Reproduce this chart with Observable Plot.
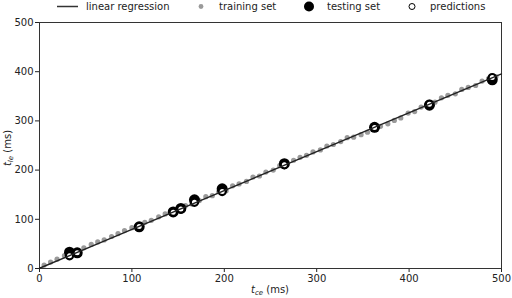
<!DOCTYPE html>
<html>
<head>
<meta charset="utf-8">
<script src="https://cdn.jsdelivr.net/npm/d3@7"></script>
<script src="https://cdn.jsdelivr.net/npm/@observablehq/plot@0.6"></script>
<style>
  html, body { margin: 0; padding: 0; background: white; }
  #legend { display: block; }
  #chart svg { display: block; }
</style>
</head>
<body>
<svg id="legend" width="512" height="14"></svg>
<div id="chart"></div>
<script>
// ---- data ----
const trainX = [5, 12, 19, 27, 34, 41, 48, 56, 63, 70, 78, 85, 92, 100, 107, 114, 121, 129, 136, 143,
  151, 158, 165, 173, 180, 187, 194, 202, 209, 216, 224, 231, 238, 245, 253, 260, 267, 275, 282, 289,
  296, 304, 311, 318, 326, 333, 340, 348, 355, 362, 369, 377, 384, 391, 399, 406, 413, 421, 428, 435,
  442, 450, 457, 464, 472, 479, 486, 494];
const trainY = [7, 13, 19, 26, 32, 37, 42, 49, 54, 58, 65, 71, 77, 83, 88, 94, 98, 105, 111, 116,
  121, 128, 131, 138, 146, 148, 156, 158, 168, 172, 177, 186, 188, 196, 200, 209, 212, 220, 226, 230,
  237, 241, 249, 252, 258, 266, 267, 272, 277, 283, 289, 294, 301, 306, 316, 319, 328, 335, 338, 347,
  352, 355, 364, 368, 372, 381, 386, 390];

const testX = [32.5, 40.8, 107.9, 144.7, 153, 167.7, 197.7, 265, 362.6, 422, 490];
const testY = [33, 31.8, 84.7, 115, 122, 139.6, 162, 213, 287, 332, 383.5];
const predY = [26, 32.2, 85.2, 114.3, 121, 134.8, 156.5, 211, 286.5, 334, 388];

const regX = [0, 500];
const regY = [0.5, 395.5];

const xTicks = [0, 100, 200, 300, 400, 500];
const yTicks = [0, 100, 200, 300, 400, 500];

const legendLabels = ["linear regression", "training set", "testing set", "predictions"];

// ---- tables ----
const train = trainX.map((x, i) => ({x, y: trainY[i]}));
const test = testX.map((x, i) => ({x, y: testY[i]}));
const pred = testX.map((x, i) => ({x, y: predY[i]}));
const reg = regX.map((x, i) => ({x, y: regY[i]}));

const FONT = "DejaVu Sans, sans-serif";

// ---- legend ----
const lg = d3.select("#legend").style("font-family", FONT).style("font-size", "10px");
lg.append("line").attr("x1", 57).attr("x2", 78).attr("y1", 6.5).attr("y2", 6.5)
  .attr("stroke", "#333").attr("stroke-width", 1.5);
lg.append("circle").attr("cx", 201).attr("cy", 6.5).attr("r", 2.4).attr("fill", "#9a9a9a");
lg.append("circle").attr("cx", 309).attr("cy", 6.5).attr("r", 5).attr("fill", "#000");
lg.append("circle").attr("cx", 412).attr("cy", 6.5).attr("r", 3).attr("fill", "white")
  .attr("stroke", "#000").attr("stroke-width", 1);
const lx = [86, 219, 327, 430];
legendLabels.forEach((t, i) => {
  lg.append("text").attr("x", lx[i]).attr("y", 10).attr("fill", "#222").text(t);
});

// ---- chart ----
const svg = Plot.plot({
  width: 512,
  height: 284,
  marginTop: 8,
  marginBottom: 30,
  marginLeft: 39,
  marginRight: 11,
  style: {fontFamily: FONT, fontSize: "10px", color: "#222", background: "white", overflow: "visible"},
  x: {domain: [0, 500], ticks: xTicks, tickSize: 4, tickPadding: 2, label: null},
  y: {domain: [0, 500], ticks: yTicks, tickSize: 4, tickPadding: 2, label: null},
  marks: [
    Plot.frame({stroke: "#333", strokeWidth: 1}),
    Plot.dot(train, {x: "x", y: "y", r: 2.6, fill: "#9a9a9a", stroke: "none"}),
    Plot.dot(test, {x: "x", y: "y", r: 5.5, fill: "#000", stroke: "none"}),
    Plot.dot(pred, {x: "x", y: "y", r: 3.6, fill: "white", stroke: "#000", strokeWidth: 2.2}),
    Plot.line(reg, {x: "x", y: "y", stroke: "#222", strokeWidth: 1.4})
  ]
});
document.getElementById("chart").appendChild(svg);

// axis titles with italic subscripts
const s = d3.select(svg);
const xl = s.append("text").attr("x", 270).attr("y", 279).attr("text-anchor", "middle")
  .attr("fill", "#222").style("font-family", FONT).style("font-size", "10px");
xl.append("tspan").attr("font-style", "italic").text("t");
xl.append("tspan").attr("font-style", "italic").attr("font-size", "7px").attr("dy", 2).text("ce");
xl.append("tspan").attr("dy", -2).text(" (ms)");

const yl = s.append("text").attr("transform", "translate(11,134) rotate(-90)").attr("text-anchor", "middle")
  .attr("fill", "#222").style("font-family", FONT).style("font-size", "10px");
yl.append("tspan").attr("font-style", "italic").text("t");
yl.append("tspan").attr("font-style", "italic").attr("font-size", "7px").attr("dy", 2).text("le");
yl.append("tspan").attr("dy", -2).text(" (ms)");
</script>
</body>
</html>
